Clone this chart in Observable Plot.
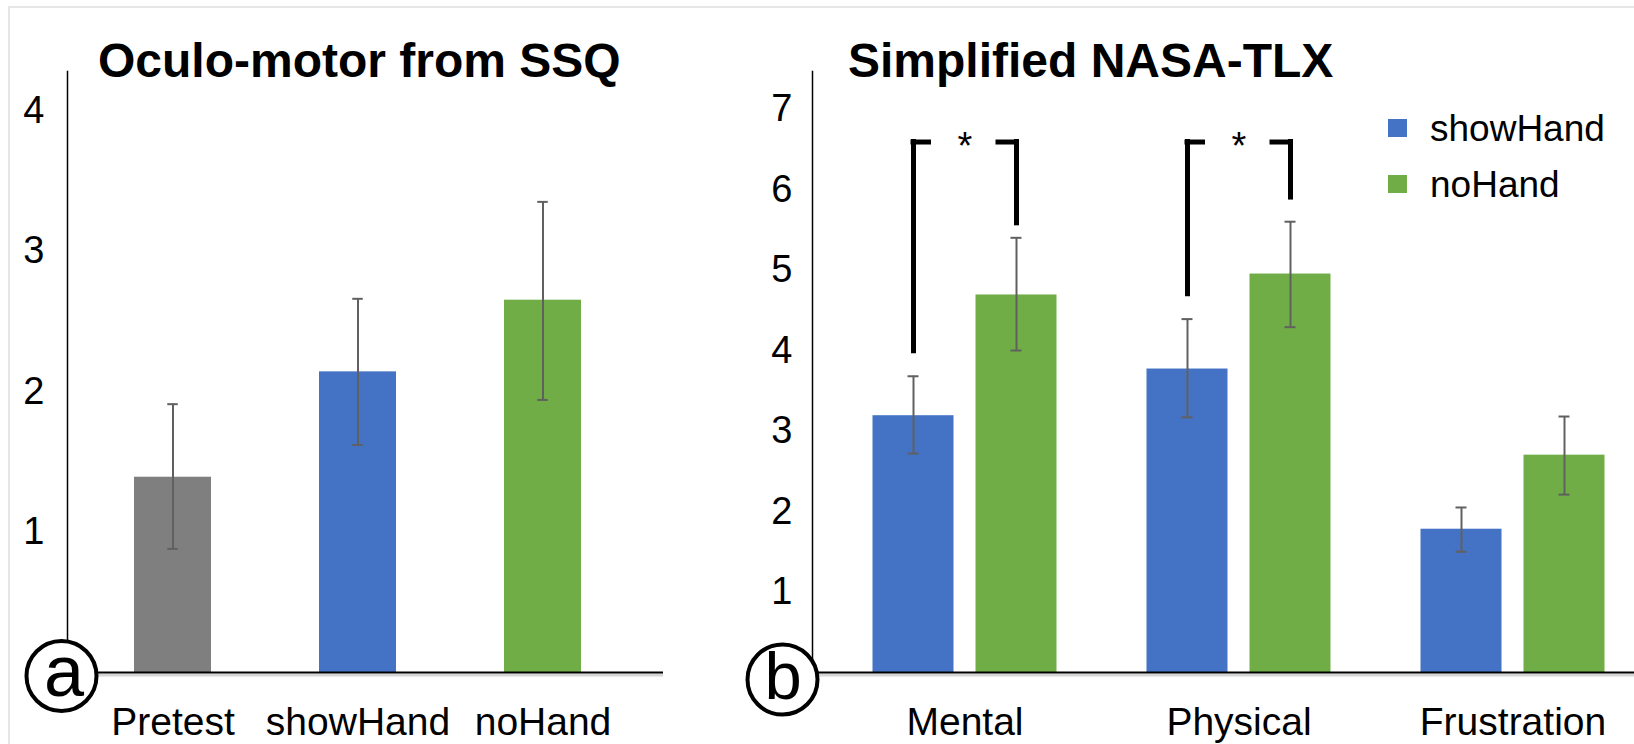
<!DOCTYPE html>
<html>
<head>
<meta charset="utf-8">
<script src="https://cdn.jsdelivr.net/npm/d3@7"></script>
<script src="https://cdn.jsdelivr.net/npm/@observablehq/plot@0.6"></script>
<style>
  html, body { margin: 0; padding: 0; background: #fff; }
  body { font-family: "Liberation Sans", Arial, sans-serif; }
  #root { position: relative; width: 1634px; height: 744px; overflow: hidden; background: #fff; }
  #border { position: absolute; left: 8px; top: 6px; right: -10px; bottom: -10px;
            border-top: 2px solid #e6e6e6; border-left: 2px solid #e6e6e6; }
  .panel { position: absolute; top: 0; }
  .title { position: absolute; font-weight: bold; font-size: 48px; line-height: 1; color: #000; white-space: nowrap; }
  .legend-item { position: absolute; font-size: 37px; line-height: 1; color: #000; white-space: nowrap; }
  .swatch { position: absolute; width: 19px; height: 18px; }
</style>
</head>
<body>
<div id="root"><div id="border"></div></div>
<script>
// ---------- Panel (a): Oculo-motor from SSQ ----------
const ssqTitle = "Oculo-motor from SSQ";
const ssqCategories = ["Pretest", "showHand", "noHand"];
const ssqMeans = [1.39, 2.14, 2.65];
const ssqLow = [0.88, 1.62, 1.94];
const ssqHigh = [1.91, 2.66, 3.35];
const ssqColors = ["#7f7f7f", "#4472c4", "#70ad47"];
const ssqTicks = [1, 2, 3, 4];
const ssqPanelLabel = "a";

// ---------- Panel (b): Simplified NASA-TLX ----------
const tlxTitle = "Simplified NASA-TLX";
const tlxCategories = ["Mental", "Physical", "Frustration"];
const tlxSeries = ["showHand", "noHand"];
const tlxColors = ["#4472c4", "#70ad47"];
const tlxShowHand = [3.19, 3.77, 1.78];
const tlxShowLow = [2.72, 3.17, 1.50];
const tlxShowHigh = [3.68, 4.39, 2.05];
const tlxNoHand = [4.69, 4.95, 2.70];
const tlxNoLow = [4.00, 4.29, 2.21];
const tlxNoHigh = [5.40, 5.60, 3.18];
const tlxTicks = [1, 2, 3, 4, 5, 6, 7];
const tlxPanelLabel = "b";

// significance brackets
const sigCategories = ["Mental", "Physical"];
const sigTop = [6.59, 6.59];
const sigLeftBottom = [3.99, 4.70];
const sigRightBottom = [5.58, 5.90];
const sigLabel = "*";

const FONT = "'Liberation Sans', Arial, Helvetica, sans-serif";
const root = document.getElementById("root");

// ---------- build panel a ----------
const ssqData = ssqCategories.map((c, i) => ({category: c, mean: ssqMeans[i], low: ssqLow[i], high: ssqHigh[i]}));
const errColor = "#606060";

const ssqBw = 77.5, capW = 11;
const left = Plot.plot({
  width: 700, height: 744,
  marginLeft: 67, marginRight: 37, marginTop: 71, marginBottom: 72,
  style: {fontFamily: FONT, color: "#000", background: "transparent", overflow: "visible"},
  x: {domain: ssqCategories, range: [24.8, 691.2], padding: 0.583, axis: null},
  y: {domain: [0, 4.278], axis: null},
  color: {domain: ssqCategories, range: ssqColors},
  marks: [
    Plot.barY(ssqData, {x: "category", y: "mean", fill: "category"}),
    Plot.frame({anchor: "left", stroke: "#000", strokeWidth: 1.5}),
    Plot.axisY({ticks: ssqTicks, tickSize: 0, tickPadding: 23, fontSize: 38, label: null, tickFormat: d => String(d)}),
    Plot.axisX({tickSize: 0, tickPadding: 35, fontSize: 39, label: null}),
    Plot.ruleY([0], {dy: 2.5, stroke: "#d6d6d6", strokeWidth: 3}),
    Plot.ruleY([0], {stroke: "#000", strokeWidth: 2}),
    Plot.ruleX(ssqData, {x: "category", y1: "low", y2: "high", stroke: errColor, strokeWidth: 2}),
    Plot.tickY(ssqData, {x: "category", y: "high", stroke: errColor, strokeWidth: 2, insetLeft: (ssqBw - capW) / 2, insetRight: (ssqBw - capW) / 2}),
    Plot.tickY(ssqData, {x: "category", y: "low", stroke: errColor, strokeWidth: 2, insetLeft: (ssqBw - capW) / 2, insetRight: (ssqBw - capW) / 2}),
    Plot.dot([ssqPanelLabel], {frameAnchor: "bottom-left", dx: -6, dy: 3.5, r: 35, fill: "#fff", stroke: "#000", strokeWidth: 4}),
    Plot.text([ssqPanelLabel], {frameAnchor: "bottom-left", lineAnchor: "middle", textAnchor: "middle", dx: -3.5, dy: 0, text: d => d, fontSize: 72, fill: "#000"})
  ]
});
left.classList.add("panel");
left.style.left = "0px";
root.appendChild(left);

// ---------- build panel b ----------
const tlxData = [];
tlxCategories.forEach((c, i) => {
  tlxData.push({category: c, series: tlxSeries[0], value: tlxShowHand[i], low: tlxShowLow[i], high: tlxShowHigh[i]});
  tlxData.push({category: c, series: tlxSeries[1], value: tlxNoHand[i], low: tlxNoLow[i], high: tlxNoHigh[i]});
});
const sigData = sigCategories.map((c, i) => ({category: c, top: sigTop[i], lb: sigLeftBottom[i], rb: sigRightBottom[i]}));

const tlxBw = 81, off = 51.5;
const isShow = d => d.series === tlxSeries[0];
const isNo = d => d.series === tlxSeries[1];
const capInset = (tlxBw - capW) / 2;

const right = Plot.plot({
  width: 934, height: 744,
  marginLeft: 112, marginRight: 0, marginTop: 71, marginBottom: 72,
  style: {fontFamily: FONT, color: "#000", background: "transparent", overflow: "visible"},
  x: {domain: tlxCategories, range: [29.75, 1047], padding: 0.705, axis: null},
  y: {domain: [0, 7.466], axis: null},
  color: {domain: tlxSeries, range: tlxColors},
  marks: [
    Plot.barY(tlxData, {filter: isShow, x: "category", y: "value", fill: "series", dx: -off}),
    Plot.barY(tlxData, {filter: isNo, x: "category", y: "value", fill: "series", dx: off}),
    Plot.frame({anchor: "left", stroke: "#000", strokeWidth: 1.5}),
    Plot.axisY({ticks: tlxTicks, tickSize: 0, tickPadding: 20, fontSize: 38, label: null, tickFormat: d => String(d)}),
    Plot.axisX({tickSize: 0, tickPadding: 35, fontSize: 39, label: null}),
    Plot.ruleY([0], {dy: 2.5, stroke: "#d6d6d6", strokeWidth: 3}),
    Plot.ruleY([0], {stroke: "#000", strokeWidth: 2}),
    // error bars
    Plot.ruleX(tlxData, {filter: isShow, x: "category", y1: "low", y2: "high", dx: -off, stroke: errColor, strokeWidth: 2}),
    Plot.ruleX(tlxData, {filter: isNo, x: "category", y1: "low", y2: "high", dx: off, stroke: errColor, strokeWidth: 2}),
    Plot.tickY(tlxData, {filter: isShow, x: "category", y: "high", dx: -off, stroke: errColor, strokeWidth: 2, insetLeft: capInset, insetRight: capInset}),
    Plot.tickY(tlxData, {filter: isShow, x: "category", y: "low", dx: -off, stroke: errColor, strokeWidth: 2, insetLeft: capInset, insetRight: capInset}),
    Plot.tickY(tlxData, {filter: isNo, x: "category", y: "high", dx: off, stroke: errColor, strokeWidth: 2, insetLeft: capInset, insetRight: capInset}),
    Plot.tickY(tlxData, {filter: isNo, x: "category", y: "low", dx: off, stroke: errColor, strokeWidth: 2, insetLeft: capInset, insetRight: capInset}),
    // significance brackets
    Plot.ruleX(sigData, {x: "category", y1: "lb", y2: "top", dx: -off, stroke: "#000", strokeWidth: 5, strokeLinecap: "square"}),
    Plot.ruleX(sigData, {x: "category", y1: "rb", y2: "top", dx: off, stroke: "#000", strokeWidth: 5, strokeLinecap: "square"}),
    Plot.tickY(sigData, {x: "category", y: "top", dx: -off, stroke: "#000", strokeWidth: 5, insetLeft: 38, insetRight: 22.5}),
    Plot.tickY(sigData, {x: "category", y: "top", dx: off, stroke: "#000", strokeWidth: 5, insetLeft: 20, insetRight: 38}),
    Plot.text(sigData, {x: "category", y: "top", text: () => sigLabel, fontSize: 38, dy: 5, fill: "#000"}),
    // panel label
    Plot.dot([tlxPanelLabel], {frameAnchor: "bottom-left", dx: -30, dy: 7, r: 35, fill: "#fff", stroke: "#000", strokeWidth: 4}),
    Plot.text([tlxPanelLabel], {frameAnchor: "bottom-left", lineAnchor: "middle", textAnchor: "middle", dx: -29.5, dy: 4.6, text: d => d, fontSize: 67, fill: "#000"})
  ]
});
right.classList.add("panel");
right.style.left = "700px";
root.appendChild(right);

// ---------- titles ----------
function addTitle(text, x) {
  const t = document.createElement("div");
  t.className = "title";
  t.textContent = text;
  t.style.left = x + "px";
  t.style.top = "37px";
  root.appendChild(t);
}
addTitle(ssqTitle, 98);
addTitle(tlxTitle, 848);

// ---------- legend ----------
const legendTops = [110, 166];
tlxSeries.forEach((s, i) => {
  const sw = document.createElement("div");
  sw.className = "swatch";
  sw.style.background = tlxColors[i];
  sw.style.left = "1388px";
  sw.style.top = (legendTops[i] + 9) + "px";
  root.appendChild(sw);
  const lab = document.createElement("div");
  lab.className = "legend-item";
  lab.textContent = s;
  lab.style.left = "1430px";
  lab.style.top = legendTops[i] + "px";
  root.appendChild(lab);
});
</script>
</body>
</html>
